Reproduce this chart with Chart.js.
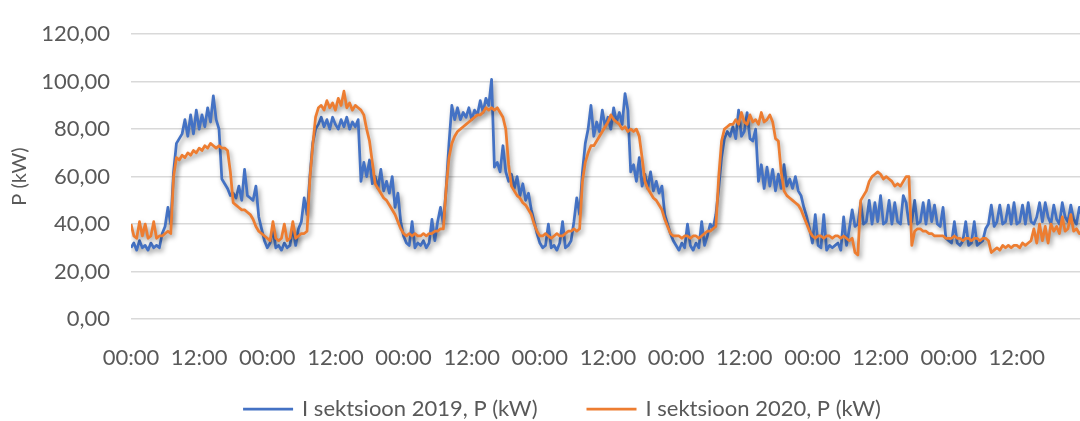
<!DOCTYPE html>
<html>
<head>
<meta charset="utf-8">
<script src="https://cdn.jsdelivr.net/npm/chart.js@4/dist/chart.umd.min.js"></script>
<style>
  html, body { margin: 0; padding: 0; background: #ffffff; overflow: hidden; width: 1080px; height: 421px; }
  #wrap { width: 1124px; height: 421px; }
  canvas { display: block; filter: blur(0.35px); }
</style>
</head>
<body>
<div id="wrap"><canvas id="chart" width="1124" height="421"></canvas></div>
<script>
// Series names shown in the legend
const seriesNames = ['I sektsioon 2019, P (kW)', 'I sektsioon 2020, P (kW)'];
// Time-of-day labels repeating every 12 hours
const tickLabels = ['00:00', '12:00'];
// Readings are half-hourly over one week (one row per day)
const stepHours = 0.5;

const sektsioon2019 = [
  30,32,29,33,30,31,29,32,30,31,30, 36,39,47,40, 62,74,76,78, 84,77,86,78,88,80,86,81,89,83,94,84, 80,59,57,55,52, 53,51,56,50,63,52,51,50, 56,43,38,33,
  30,32,38,30,31,29,32,30,31,39,31, 38,41,51,44,60,74,80,82, 85,81,84,80,85,82,80,84,81,85,80,83,81,84, 58,66,60,67,57,60,55,63,54,58,53,60,47,53,41,
  35,32,31,41,30,32,31,33,30,32,42,33, 41,47,40,55,74,90,84,89, 84,87,85,89,84,88,86,92,87,93,90,101, 64,66,62,73,62,58,61,55,60,52,57,50,53,46,41,36,
  32,30,31,40,30,31,29,32,41,30,31,33, 41,51,44,62, 74,80,90,77,83,79,88,81,85,80,89,83,87,82,95,88, 62,65,58,68,56,61,55,62,54,58,53,56,44,40,36,33,
  31,29,32,30,40,31,29,32,30,41,31,35,40,38,44, 55,68,76,79,77,81,76,88,77,79,87,76,75,80, 58,65,55,64,56,63,54,61,55,65,56,59,55,60,54,52,47,43,38,
  32,44,31,30,44,29,31,30,31,32,29,43,31,38,46,39, 40,49,40,41,50,40,49,41,52,40,41,50,40,49,41,40,52,49,40,41,50,40,41,49,40,50,41,48, 40,39,47,34,
  33,32,41,32,31,33,41,31,32,41,31,32,33,38, 40,48,39,41,48,40,41,48,40,49,40,41,48,40,49,41,40,43,49,41,49,43,40,48,42,40,49,43,41,48,42,40,47,43
];

const sektsioon2020 = [
  40,35,34,41,35,40,34,35,41,34,35, 35,36,37,36, 60,68,67,69, 68,70,69,71,70,72,71,73,72,74,73,72, 73,72,72,71,62, 49,48,47,46,46,45,44,42, 39,37,36,35,
  34,33,41,34,33,34,40,33,34,41,34, 35,36,36,37, 59,73,85,89, 90,88,92,89,91,88,93,90,96,89,91,88,90,89, 88,86,80,75,66,57,55,53,51,50,48,46,44,41,38,
  36,35,36,35,36,35,35,36,35,36,36,37, 37,38,38,55,68,74,77,79, 80,81,82,83,84,85,86,86,87,89,88,89, 88,89,87,85,80,65,56,54,52,51,49,48,46,44,40,37,
  35,35,36,35,34,35,36,35,35,36,37,37, 38,37,38,58, 66,70,73,73,75,77,79,81,83,86,84,83,82,80,81,79, 80,79,80,77,68,58,55,53,51,50,48,46,42,39,36,35,
  35,35,34,35,35,34,35,35,34,35,36,37,37,38,39, 60,75,80,81,82,82,84,82,87,83,82,86,83,84, 82,87,83,84,86,83,76,75,62,54,52,51,50,49,48,46,43,40,37,
  35,34,35,35,34,35,35,34,35,35,34,35,34,33,34, 28,27, 50,52,54,58,60,61,62,61,59,60,59,58,56,57,56,58,60,60, 31,37,38,38,37,37,36,36,35,35,35,35,34,
  34,34,35,34,34,33,34,34,33,34,34,33,34,34,33, 28,29,30,29,31,30,31,30,31,31,30,32,31,32,33,38,32,40,33,39,32,40, 37,39,36,43,37,38,44,37,38,36,37
];

const toPoints = values => values.map((v, i) => ({ x: i * stepHours, y: v }));

const textGrey = '#595959';
const fontFamily = 'Lato, "Open Sans", sans-serif';

// Soft drop shadow under the series lines
const lineShadow = {
  id: 'lineShadow',
  beforeDatasetsDraw(chart) {
    const c = chart.ctx;
    c.save();
    c.shadowColor = 'rgba(0,0,0,0.38)';
    c.shadowBlur = 5;
    c.shadowOffsetX = 2;
    c.shadowOffsetY = 3;
  },
  afterDatasetsDraw(chart) {
    chart.ctx.restore();
  }
};

// Centred legend row below the axis: line sample + series name per dataset
const lineLegend = {
  id: 'lineLegend',
  afterDraw(chart, args, opts) {
    const c = chart.ctx;
    c.save();
    c.font = `${opts.fontSize}px ${fontFamily}`;
    c.textBaseline = 'middle';
    c.textAlign = 'left';
    const items = chart.data.datasets.map(ds => ({
      text: ds.label,
      color: ds.borderColor,
      width: ds.borderWidth,
      textW: c.measureText(ds.label).width
    }));
    const itemW = it => opts.sampleLength + opts.textGap + it.textW;
    const total = items.reduce((s, it) => s + itemW(it), 0) + opts.itemGap * (items.length - 1);
    let x = opts.centerX - total / 2;
    const y = opts.y;
    items.forEach(it => {
      c.strokeStyle = it.color;
      c.lineWidth = it.width;
      c.beginPath();
      c.moveTo(x, y);
      c.lineTo(x + opts.sampleLength, y);
      c.stroke();
      c.fillStyle = textGrey;
      c.fillText(it.text, x + opts.sampleLength + opts.textGap, y);
      x += itemW(it) + opts.itemGap;
    });
    c.restore();
  }
};

Chart.defaults.font.family = fontFamily;

new Chart(document.getElementById('chart'), {
  type: 'line',
  data: {
    datasets: [
      { label: seriesNames[0], data: toPoints(sektsioon2019), borderColor: '#4472C4', backgroundColor: '#4472C4', borderWidth: 2.75, order: 1 },
      { label: seriesNames[1], data: toPoints(sektsioon2020), borderColor: '#ED7D31', backgroundColor: '#ED7D31', borderWidth: 2.75, order: 0 }
    ]
  },
  options: {
    responsive: false,
    animation: false,
    layout: { padding: { left: 0, right: 39, top: 24, bottom: 0 } },
    elements: {
      point: { radius: 0 },
      line: { tension: 0, borderJoinStyle: 'round', borderCapStyle: 'butt' }
    },
    plugins: {
      tooltip: { enabled: false },
      legend: { display: false },
      lineLegend: { centerX: 562, y: 409, fontSize: 22, sampleLength: 50, textGap: 9, itemGap: 49 }
    },
    scales: {
      x: {
        type: 'linear',
        min: 0,
        max: 168,
        afterFit(scale) { scale.height = 102; },
        grid: { display: false },
        border: { display: false },
        ticks: {
          stepSize: 12,
          autoSkip: false,
          maxRotation: 0,
          padding: 18,
          color: textGrey,
          font: { size: 22 },
          callback: v => (v >= 168 ? null : tickLabels[Math.round(v / 12) % 2])
        }
      },
      y: {
        min: 0,
        max: 120,
        afterFit(scale) { scale.width = 131; },
        grid: { color: '#d9d9d9', lineWidth: 1.5, drawTicks: false },
        border: { display: false },
        ticks: {
          stepSize: 20,
          padding: 21,
          color: textGrey,
          font: { size: 22 },
          callback: v => v.toFixed(2).replace('.', ',')
        },
        title: {
          display: true,
          text: 'P (kW)',
          color: textGrey,
          font: { size: 20 },
          padding: { top: 8, bottom: 0 }
        }
      }
    }
  },
  plugins: [lineShadow, lineLegend]
});
</script>
</body>
</html>
